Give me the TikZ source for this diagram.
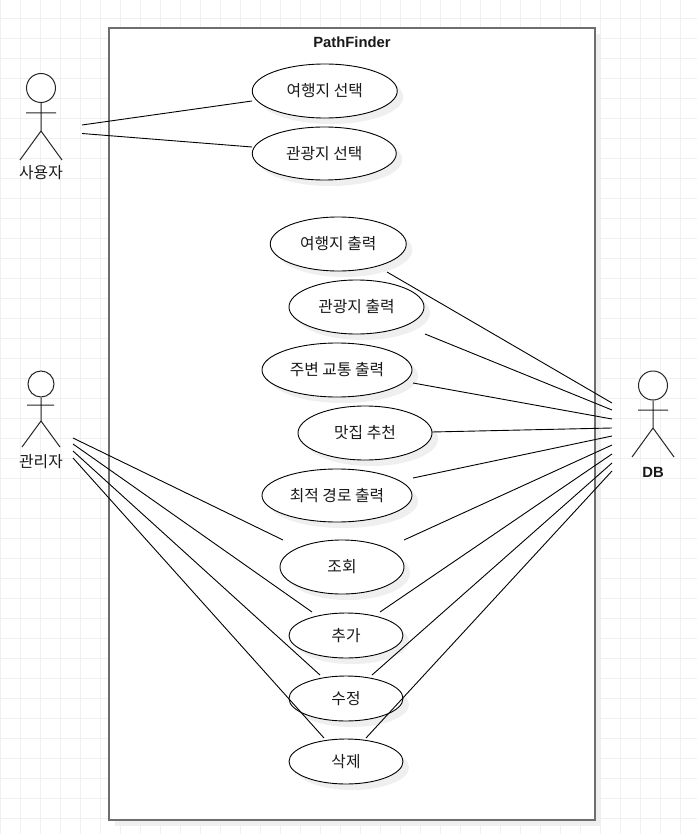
\documentclass[tikz,border=0pt]{standalone}
\usepackage{fontspec}
\setmainfont{Liberation Sans}
\newfontfamily\krfont{Noto Sans CJK KR}
\definecolor{gridc}{HTML}{F0F0F0}
\definecolor{shadowc}{HTML}{EFEFEF}
\definecolor{framec}{HTML}{6E6E6E}
\tikzset{
  usecase/.style={ellipse,draw=black,fill=white,line width=0.9pt,inner sep=0pt,font=\krfont\fontsize{15.8}{18}\selectfont,text=black!90},
  link/.style={draw=black,line width=0.9pt},
  actorline/.style={draw=black!85,line width=1pt},
  actorname/.style={inner sep=0pt,font=\krfont\fontsize{15.8}{18}\selectfont,text=black!90},
  boldname/.style={inner sep=0pt,font=\fontsize{14.8}{17}\selectfont\bfseries,text=black!90},
  shadowblob/.style={ellipse,fill=shadowc,inner sep=0pt},
}
\usetikzlibrary{shapes.geometric}
\newcommand{\ucase}[6]{% name, cx, cy, w, h, text
  \node[shadowblob,minimum width=#4pt,minimum height=#5pt] at (#2+6,#3+6) {};
  \node[usecase,minimum width=#4pt,minimum height=#5pt] (#1) at (#2,#3) {\raisebox{1.5pt}{#6}};
}
\begin{document}
\begin{tikzpicture}[x=1pt,y=-1pt]
\useasboundingbox (0,0) rectangle (697,834);
\fill[white] (0,0) rectangle (697,834);
% grid
\foreach \gx in {0.5,20.5,...,690} \draw[gridc,line width=0.8pt] (\gx,0) -- (\gx,834);
\foreach \gy in {18.5,38.5,...,830} \draw[gridc,line width=0.8pt] (0,\gy) -- (697,\gy);
% system frame
\fill[shadowc] (115,34) rectangle (601,826);
\node[draw=framec,fill=white,line width=1.1pt,minimum width=486pt,minimum height=792pt,inner sep=0pt] (frame) at (352,424) {};
\node[boldname] (title) at (352,42) {PathFinder};
% use cases
\ucase{selA}{324.75}{91}{145}{54}{여행지 선택}
\ucase{selB}{324.25}{153.5}{144}{53}{관광지 선택}
\ucase{outA}{338.25}{244}{136}{54}{여행지 출력}
\ucase{outB}{356.5}{307}{135}{54}{관광지 출력}
\ucase{outC}{337}{370}{150}{54}{주변 교통 출력}
\ucase{outD}{365}{433}{134}{54}{맛집 추천}
\ucase{outE}{337}{495.5}{150}{53}{최적 경로 출력}
\ucase{look}{342}{567}{124}{54}{조회}
\ucase{addn}{346}{635.5}{114}{45}{추가}
\ucase{edit}{346}{698.5}{114}{45}{수정}
\ucase{dele}{346}{761.5}{114}{45}{삭제}
% actors
\node[circle,draw=black!85,fill=white,line width=1pt,minimum size=29pt,inner sep=0pt] (userHead) at (41,88) {};
\coordinate (userHip) at (41,131);
\coordinate (userArmL) at (26,113); \coordinate (userArmR) at (56,113);
\coordinate (userLegL) at (20,160); \coordinate (userLegR) at (62,160);
\draw[actorline] (userHead) -- (userHip) (userArmL) -- (userArmR) (userLegL) -- (userHip) -- (userLegR);
\node[actorname] (userName) at (41,173) {사용자};
\node[circle,draw=black!85,fill=white,line width=1pt,minimum size=26pt,inner sep=0pt] (admHead) at (41,384) {};
\coordinate (admHip) at (41,421);
\coordinate (admArmL) at (27,405); \coordinate (admArmR) at (54,405);
\coordinate (admLegL) at (22,447); \coordinate (admLegR) at (60,447);
\draw[actorline] (admHead) -- (admHip) (admArmL) -- (admArmR) (admLegL) -- (admHip) -- (admLegR);
\node[actorname] (admName) at (41,462) {관리자};
\node[circle,draw=black!85,fill=white,line width=1pt,minimum size=29pt,inner sep=0pt] (dbHead) at (653,385.5) {};
\coordinate (dbHip) at (653,428);
\coordinate (dbArmL) at (638,410); \coordinate (dbArmR) at (668,410);
\coordinate (dbLegL) at (632,457); \coordinate (dbLegR) at (674,457);
\draw[actorline] (dbHead) -- (dbHip) (dbArmL) -- (dbArmR) (dbLegL) -- (dbHip) -- (dbLegR);
\node[boldname] (dbName) at (653,472) {DB};
% free ends
\coordinate (uA) at (82,125); \coordinate (uB) at (82,133.5);
\coordinate (selAe) at (252,101); \coordinate (selBe) at (252,147);
\coordinate (aA) at (73,438); \coordinate (aB) at (73,444); \coordinate (aC) at (73,451); \coordinate (aD) at (73,458);
\coordinate (lookL) at (283,540); \coordinate (addnL) at (312,612); \coordinate (editL) at (320,675); \coordinate (deleL) at (324,738);
\coordinate (dA) at (612,403); \coordinate (dB) at (612,410); \coordinate (dC) at (612,419); \coordinate (dD) at (612,428);
\coordinate (dE) at (612,436); \coordinate (dF) at (612,445); \coordinate (dG) at (612,454); \coordinate (dH) at (612,463); \coordinate (dI) at (612,471);
\coordinate (outAe) at (387,272); \coordinate (outBe) at (425,334); \coordinate (outCe) at (413,383); \coordinate (outDe) at (432,432);
\coordinate (outEe) at (413,478); \coordinate (lookR) at (404,540); \coordinate (addnR) at (380,612); \coordinate (editR) at (372,675); \coordinate (deleR) at (366,738);
% connectors
\draw[link] (uA) -- (selAe);
\draw[link] (uB) -- (selBe);
\draw[link] (aA) -- (lookL);
\draw[link] (aB) -- (addnL);
\draw[link] (aC) -- (editL);
\draw[link] (aD) -- (deleL);
\draw[link] (outAe) -- (dA);
\draw[link] (outBe) -- (dB);
\draw[link] (outCe) -- (dC);
\draw[link] (outDe) -- (dD);
\draw[link] (outEe) -- (dE);
\draw[link] (lookR) -- (dF);
\draw[link] (addnR) -- (dG);
\draw[link] (editR) -- (dH);
\draw[link] (deleR) -- (dI);
\end{tikzpicture}
\end{document}
